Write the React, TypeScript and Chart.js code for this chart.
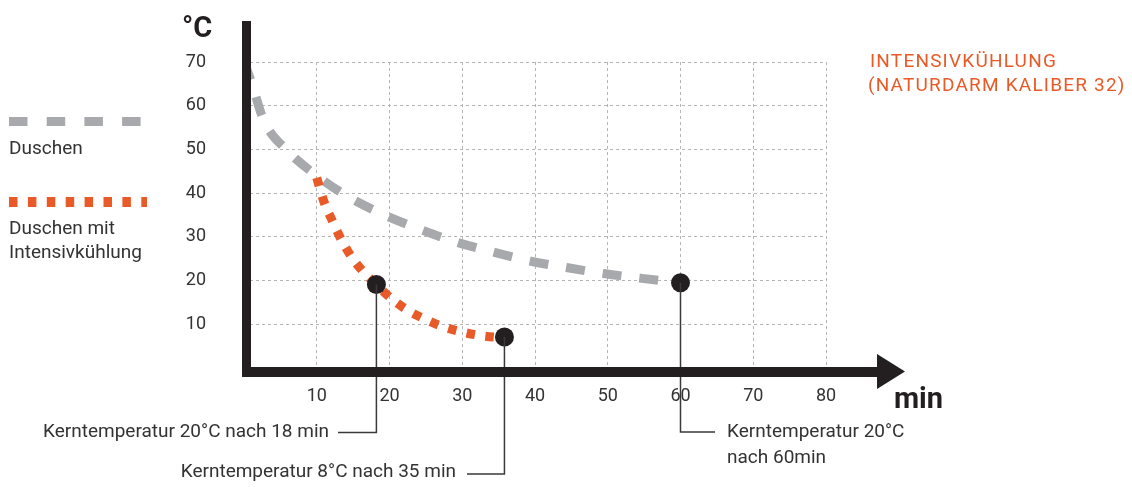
import React, { useEffect, useRef } from "react";
import { Chart, registerables } from "chart.js";

Chart.register(...registerables);

// ---- data ----
const xTicks = [10, 20, 30, 40, 50, 60, 70, 80];
const yTicks = [10, 20, 30, 40, 50, 60, 70];

const duschenX = [0, 1, 2.7, 6.1, 10, 14.5, 19.2, 24.1, 29, 34.1, 39.2, 44.3, 49.5, 54.7, 60];
const duschenY = [70, 65.5, 56.7, 49.5, 44, 39, 35.1, 31.8, 28.9, 26.6, 24.5, 23, 21.6, 20.5, 19.5];

const intensivX = [10, 11, 12.1, 13.3, 14.7, 16.3, 18.2, 20.1, 22.3, 24.7, 27.1, 29.6, 32.2, 34.4, 35.8];
const intensivY = [43.5, 38, 33.8, 29.6, 25.6, 22.2, 19.1, 16.1, 13.4, 11.3, 9.6, 8.4, 7.5, 7.1, 7.0];

const markerX = [18.2, 35.8, 60];
const markerY = [19.1, 7.1, 19.5];
const markerLabels = [
  ["Kerntemperatur 20°C nach 18 min"],
  ["Kerntemperatur 8°C nach 35 min"],
  ["Kerntemperatur 20°C", "nach 60min"],
];

const legendLabels = [["Duschen"], ["Duschen mit", "Intensivkühlung"]];
const titleLines = ["INTENSIVKÜHLUNG", "(NATURDARM KALIBER 32)"];
const yUnit = "°C";
const xUnit = "min";

// ---- styles ----
const GRAY = "#a7a9ac";
const ORANGE = "#e85a27";
const DARK = "#231f20";
const TEXT = "#333333";
const GRID = "#b5b5b5";
const FONT = "Roboto, 'DejaVu Sans', sans-serif";

const decorPlugin = {
  id: "decor",
  afterDatasetsDraw(chart: any) {
    const { ctx } = chart;
    const xs = chart.scales.x;
    const ys = chart.scales.y;
    const x0 = xs.getPixelForValue(0);
    const y0 = ys.getPixelForValue(0);
    ctx.save();

    // leader lines + annotation texts
    const meta = chart.getDatasetMeta(2);
    const pts = meta.data.map((p: any) => ({ x: p.x, y: p.y }));
    ctx.strokeStyle = "#3a3a3a";
    ctx.lineWidth = 1.5;
    ctx.setLineDash([]);
    ctx.fillStyle = TEXT;
    ctx.font = `19px ${FONT}`;
    ctx.textBaseline = "middle";

    // marker 0: down then left
    {
      const p = pts[0];
      const yb = 432.5;
      ctx.beginPath();
      ctx.moveTo(p.x, p.y);
      ctx.lineTo(p.x, yb);
      ctx.lineTo(338, yb);
      ctx.stroke();
      ctx.textAlign = "right";
      ctx.fillText(markerLabels[0][0], 329, yb);
    }
    // marker 1: down then left
    {
      const p = pts[1];
      const yb = 474;
      ctx.beginPath();
      ctx.moveTo(p.x, p.y);
      ctx.lineTo(p.x, yb);
      ctx.lineTo(467, yb);
      ctx.stroke();
      ctx.textAlign = "right";
      ctx.fillText(markerLabels[1][0], 456, yb - 1.5);
    }
    // marker 2: down then right
    {
      const p = pts[2];
      const yb = 432;
      ctx.beginPath();
      ctx.moveTo(p.x, p.y);
      ctx.lineTo(p.x, yb);
      ctx.lineTo(715, yb);
      ctx.stroke();
      ctx.textAlign = "left";
      ctx.fillText(markerLabels[2][0], 727, yb);
      ctx.fillText(markerLabels[2][1], 727, yb + 26);
    }

    // thick axes
    ctx.fillStyle = DARK;
    ctx.fillRect(x0 - 2, 21, 9, y0 + 9 - 21);
    ctx.fillRect(x0 - 2, y0 - 1, 880 - (x0 - 2), 10);
    ctx.beginPath();
    ctx.moveTo(877, 354);
    ctx.lineTo(905, 371.5);
    ctx.lineTo(877, 389);
    ctx.closePath();
    ctx.fill();

    // axis units
    ctx.font = `bold 29px ${FONT}`;
    ctx.textAlign = "left";
    ctx.textBaseline = "alphabetic";
    ctx.fillText(yUnit, 182, 37);
    ctx.fillText(xUnit, 894, 408);

    // legend
    ctx.lineCap = "butt";
    ctx.lineWidth = 9;
    ctx.strokeStyle = GRAY;
    ctx.setLineDash([18.5, 19.2]);
    ctx.beginPath();
    ctx.moveTo(9, 121.5);
    ctx.lineTo(141, 121.5);
    ctx.stroke();
    ctx.strokeStyle = ORANGE;
    ctx.lineWidth = 10;
    ctx.setLineDash([8.5, 10.4]);
    ctx.beginPath();
    ctx.moveTo(9, 202);
    ctx.lineTo(147, 202);
    ctx.stroke();
    ctx.setLineDash([]);
    ctx.fillStyle = TEXT;
    ctx.font = `19px ${FONT}`;
    ctx.textBaseline = "middle";
    ctx.fillText(legendLabels[0][0], 9, 149.5);
    ctx.fillText(legendLabels[1][0], 9, 229.5);
    ctx.fillText(legendLabels[1][1], 9, 253.5);

    // title
    ctx.fillStyle = ORANGE;
    ctx.font = `19px ${FONT}`;
    try {
      (ctx as any).letterSpacing = "1.2px";
    } catch (e) {}
    ctx.fillText(titleLines[0], 870, 62);
    ctx.fillText(titleLines[1], 868, 86);

    ctx.restore();
  },
};

export default function App() {
  const ref = useRef<HTMLCanvasElement | null>(null);

  useEffect(() => {
    if (!ref.current) return;
    const chart = new Chart(ref.current, {
      type: "line",
      data: {
        datasets: [
          {
            label: "Duschen",
            data: duschenX.map((x, i) => ({ x, y: duschenY[i] })),
            borderColor: GRAY,
            borderWidth: 9,
            borderDash: [19, 18],
            borderCapStyle: "butt",
            pointRadius: 0,
            cubicInterpolationMode: "monotone",
            fill: false,
            order: 2,
          },
          {
            label: "Duschen mit Intensivkühlung",
            data: intensivX.map((x, i) => ({ x, y: intensivY[i] })),
            borderColor: ORANGE,
            borderWidth: 9,
            borderDash: [8.5, 10.5],
            borderCapStyle: "butt",
            pointRadius: 0,
            cubicInterpolationMode: "monotone",
            fill: false,
            order: 1,
          },
          {
            label: "Kerntemperatur",
            data: markerX.map((x, i) => ({ x, y: markerY[i] })),
            showLine: false,
            pointRadius: 9.5,
            pointBackgroundColor: DARK,
            pointBorderWidth: 0,
            borderColor: DARK,
            order: 0,
          },
        ],
      },
      options: {
        animation: false,
        responsive: false,
        devicePixelRatio: 1,
        layout: { padding: { top: 62, right: 306, left: 0, bottom: 0 } },
        plugins: {
          legend: { display: false },
          tooltip: { enabled: false },
        },
        scales: {
          x: {
            type: "linear",
            min: 0,
            max: 80,
            afterBuildTicks: (axis: any) => {
              axis.ticks = xTicks.map((v) => ({ value: v }));
            },
            afterFit: (s: any) => {
              s.height = 119;
            },
            grid: { color: GRID, lineWidth: 1, drawTicks: false },
            border: { display: false, dash: [3, 3] },
            ticks: {
              color: TEXT,
              font: { family: FONT, size: 18 },
              padding: 18,
              maxRotation: 0,
              autoSkip: false,
            },
          },
          y: {
            type: "linear",
            min: 0,
            max: 70,
            afterBuildTicks: (axis: any) => {
              axis.ticks = yTicks.map((v) => ({ value: v }));
            },
            afterFit: (s: any) => {
              s.width = 244;
            },
            grid: { color: GRID, lineWidth: 1, drawTicks: false },
            border: { display: false, dash: [3, 3] },
            ticks: {
              color: TEXT,
              font: { family: FONT, size: 18 },
              padding: 38,
              autoSkip: false,
            },
          },
        },
      },
      plugins: [decorPlugin],
    } as any);
    return () => chart.destroy();
  }, []);

  return (
    <div style={{ position: "absolute", left: 0, top: 0, width: 1132, height: 487, background: "#fff" }}>
      <canvas ref={ref} width={1132} height={487} style={{ display: "block" }} />
    </div>
  );
}
